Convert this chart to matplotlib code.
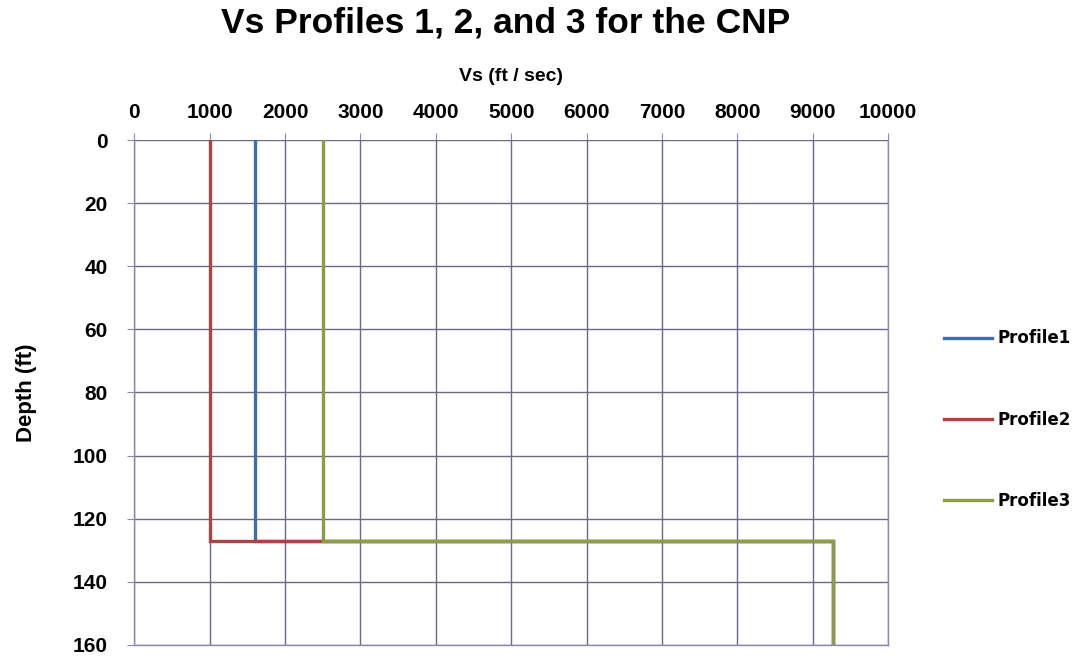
import matplotlib.pyplot as plt

# layered Vs profiles: (velocity, depth) pairs of each step curve
profile1_vs = [1600, 1600, 9270, 9270]
profile2_vs = [1000, 1000, 9270, 9270]
profile3_vs = [2500, 2500, 9270, 9270]
depth_ft = [0, 127, 127, 160]

x_ticks = [0, 1000, 2000, 3000, 4000, 5000, 6000, 7000, 8000, 9000, 10000]
y_ticks = [0, 20, 40, 60, 80, 100, 120, 140, 160]

profiles = [
    ("Profile1", profile1_vs, "#3f6db0"),
    ("Profile2", profile2_vs, "#a84643"),
    ("Profile3", profile3_vs, "#8c9e45"),
]

plt.rcParams["font.family"] = ["Liberation Sans", "DejaVu Sans"]

fig = plt.figure(figsize=(10.74, 6.58), dpi=100)
ax = fig.add_axes([0.125, 0.02, 0.702, 0.767])

for name, vs, color in profiles:
    ax.plot(vs, depth_ft, color=color, linewidth=2.4, label=name,
            solid_joinstyle="miter")

ax.set_xlim(0, 10000)
ax.set_ylim(160, 0)
ax.set_xticks(x_ticks)
ax.set_yticks(y_ticks)
ax.xaxis.tick_top()
ax.xaxis.set_label_position("top")

ax.grid(True, color="#6a6a88", linewidth=1.0)
for spine in ax.spines.values():
    spine.set_color("#8a8aaa")
    spine.set_linewidth(1.0)
ax.spines["top"].set_visible(False)

ax.tick_params(axis="both", direction="out", length=5, color="#8a8aaa",
               labelsize=15)
ax.tick_params(axis="x", pad=8)
ax.tick_params(axis="y", pad=14)
for label in ax.get_xticklabels() + ax.get_yticklabels():
    label.set_fontweight("bold")

ax.set_xlabel("Vs (ft / sec)", fontsize=14, fontweight="bold", labelpad=16)
ax.set_ylabel("Depth (ft)", fontsize=16, fontweight="bold", labelpad=26)

fig.suptitle("Vs Profiles 1, 2, and 3 for the CNP", x=0.471, y=0.99,
             fontsize=25.5, fontweight="bold")

fig.legend(
    loc="center left",
    bbox_to_anchor=(0.865, 0.362),
    frameon=False,
    handlelength=2.9,
    handletextpad=0.3,
    labelspacing=3.8,
    prop={"family": "DejaVu Sans", "weight": "bold", "size": 12},
)

fig.savefig("out.png", dpi=100)
